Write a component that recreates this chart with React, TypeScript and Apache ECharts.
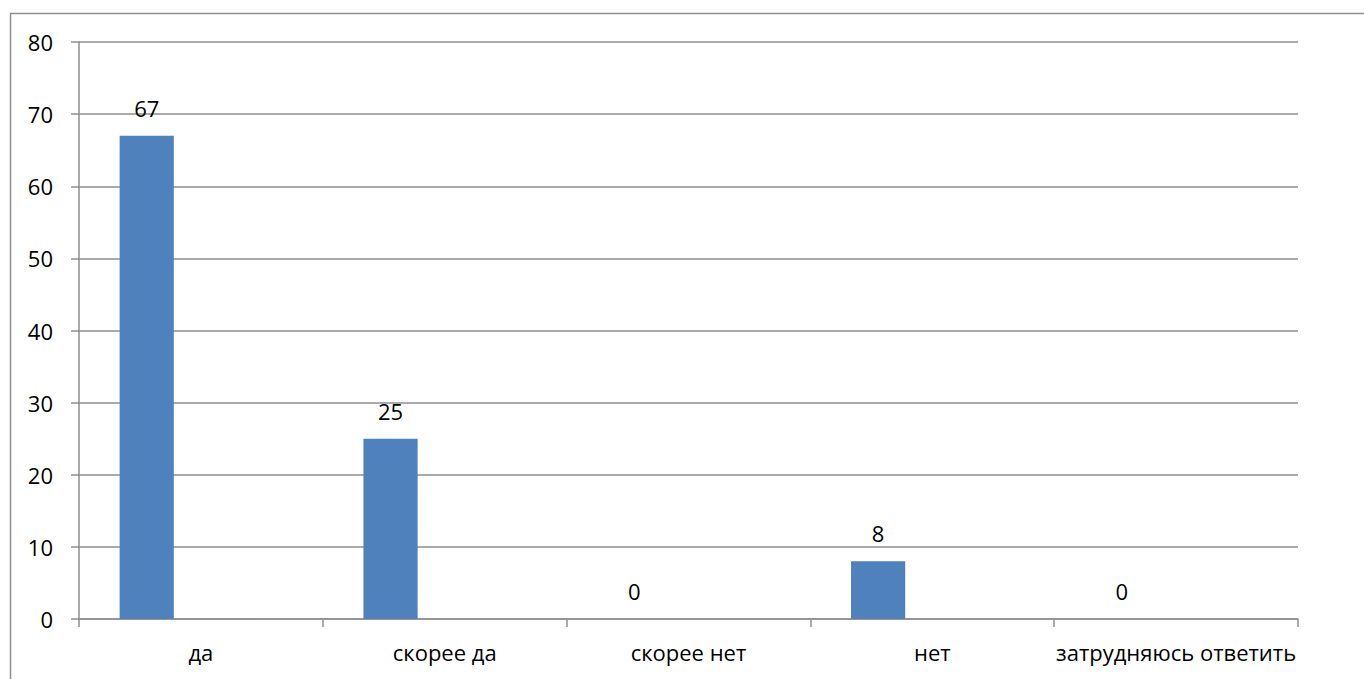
import React, { useEffect, useRef } from "react";
import * as echarts from "echarts";

const categories = ["да", "скорее да", "скорее нет", "нет", "затрудняюсь ответить"];
const values = [67, 25, 0, 8, 0];
const emptyA = [null, null, null, null, null];
const emptyB = [null, null, null, null, null];
const yTicks = { min: 0, max: 80, interval: 10 };

const FONT = "'Open Sans', 'Noto Sans', sans-serif";
const GRAY = "#8f8f8f";
const FS = 22;

export default function App() {
  const ref = useRef<HTMLDivElement>(null);
  useEffect(() => {
    if (!ref.current) return;
    const chart = echarts.init(ref.current, null, { renderer: "svg" });
    chart.setOption({
      animation: false,
      backgroundColor: "#ffffff",
      textStyle: { fontFamily: FONT },
      graphic: [
        {
          type: "rect",
          shape: { x: 10.5, y: 13.5, width: 1400, height: 700 },
          style: { fill: "none", stroke: GRAY, lineWidth: 1.5 },
          silent: true,
        },
      ],
      grid: { left: 79, right: 66, top: 42, bottom: 60, containLabel: false },
      xAxis: {
        type: "category",
        data: categories,
        axisLine: { show: true, lineStyle: { color: GRAY, width: 1.5 } },
        axisTick: { show: true, length: 8, alignWithLabel: false, lineStyle: { color: GRAY, width: 1.5 } },
        axisLabel: { color: "#000", fontSize: FS, fontFamily: FONT, margin: 22, interval: 0 },
        splitLine: { show: false },
      },
      yAxis: {
        type: "value",
        min: yTicks.min,
        max: yTicks.max,
        interval: yTicks.interval,
        axisLine: { show: true, lineStyle: { color: GRAY, width: 1.5 } },
        axisTick: { show: true, length: 8, lineStyle: { color: GRAY, width: 1.5 } },
        axisLabel: { color: "#000", fontSize: FS, fontFamily: FONT, margin: 26 },
        splitLine: { show: true, lineStyle: { color: GRAY, width: 1.5 } },
      },
      series: [
        {
          type: "bar",
          data: values,
          barGap: "0%",
          barCategoryGap: "33.33%",
          itemStyle: { color: "#4f81bd" },
          label: {
            show: true,
            position: "top",
            distance: 17,
            color: "#000",
            fontSize: FS,
            fontFamily: FONT,
          },
        },
        { type: "bar", data: emptyA, barGap: "0%", barCategoryGap: "33.33%", itemStyle: { color: "#c0504d" } },
        { type: "bar", data: emptyB, barGap: "0%", barCategoryGap: "33.33%", itemStyle: { color: "#9bbb59" } },
      ],
    });
    return () => chart.dispose();
  }, []);
  return (
    <div
      ref={ref}
      style={{ position: "fixed", left: 0, top: 0, width: 1364, height: 679, background: "#fff" }}
    />
  );
}
